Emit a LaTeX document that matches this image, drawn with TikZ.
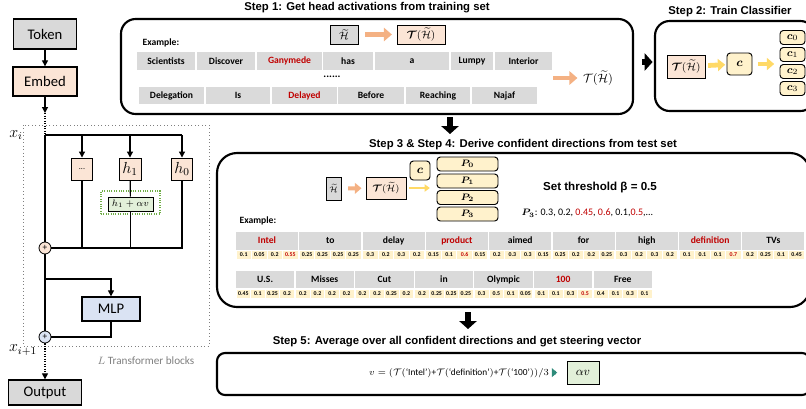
\documentclass[tikz,border=0pt]{standalone}
\usepackage{amsmath,bm}
\usepackage{fontspec}
\setmainfont{Carlito}
\newfontfamily\arialfont{Liberation Sans}
\usetikzlibrary{arrows.meta}

\definecolor{boxgray}{HTML}{D9D9D9}
\definecolor{cellgray}{HTML}{DADADA}
\definecolor{peach}{HTML}{FBE5D6}
\definecolor{lightblue}{HTML}{DAE3F3}
\definecolor{lightgreen}{HTML}{E2F0D9}
\definecolor{dotgreen}{HTML}{70AD47}
\definecolor{paleyellow}{HTML}{FFF2CC}
\definecolor{orangearr}{HTML}{F4B183}
\definecolor{goldarr}{HTML}{FFD966}
\definecolor{redtxt}{HTML}{C00000}
\definecolor{eqarr}{HTML}{2E8B7A}
\definecolor{blocktxt}{HTML}{7F7F7F}

\newcommand{\hl}[1]{\textcolor{redtxt}{#1}}
\newcommand{\tilH}{\widetilde{\mathcal{H}}}
\newcommand{\actT}{\boldsymbol{\mathcal{T}}(\tilH)}
\newcommand{\fsz}[1]{\fontsize{#1}{#1}\selectfont}

\begin{document}
\begin{tikzpicture}[x=0.75pt,y=0.75pt,yscale=-1,xscale=1,
  sz/.style 2 args={minimum width=#1*0.75pt,minimum height=#2*0.75pt},
  blk/.style={draw,line width=0.7pt,inner sep=0pt},
  stepbox/.style={draw,line width=1.6pt,rounded corners=11pt,inner sep=0pt},
  steptitle/.style={font=\arialfont\bfseries\fsz{8.5}},
  cell/.style={fill=cellgray,inner sep=0pt,font=\bfseries\fsz{7.2}},
  numcell/.style={fill=paleyellow,inner sep=0pt,font=\bfseries\fsz{4.4}},
  ybox/.style={blk,fill=paleyellow,rounded corners=2.5pt},
  stdarrow/.style={line width=0.9pt,-{Triangle[length=4.5pt,width=4.5pt]}},
  orangearrow/.style={draw=orangearr,line width=3.6pt,-{Triangle[length=6pt,width=10pt]}},
  goldarrow/.style={draw=goldarr,line width=3.6pt,-{Triangle[length=5.5pt,width=9pt]}},
  bigarrow/.style={line width=5pt,-{Triangle[length=6pt,width=13pt]}},
  addsum/.style={circle,draw,line width=0.6pt,inner sep=0pt,minimum size=12*0.75pt,font=\fsz{7}}
]
\useasboundingbox (0,0) rectangle (806,408);

%Token and Embed
\node[blk,line width=1pt,fill=boxgray,sz={63}{30},font=\fsz{11}] (token) at (45,34) {Token};
\node[blk,line width=1pt,fill=peach,sz={64}{29},font=\fsz{11}] (embed) at (45,81.5) {Embed};
\coordinate (embend) at (45,113);
\coordinate (xi) at (45,135);
\draw[stdarrow] (token) -- (embed);
\draw[stdarrow] (embed) -- (embend);
\draw[densely dotted,line width=0.9pt] (embend) -- (xi);

%Transformer block frame
\draw[blocktxt,dotted,line width=0.6pt] (23,125) rectangle (209,346);
% Text Node
\node[font=\fsz{12}] (xilab) at (16,135) {$x_i$};

%Heads
\node[blk,fill=peach,sz={21}{22},font=\fsz{6}] (hdots) at (82,169) {...};
\node[blk,fill=peach,sz={22}{22},font=\fsz{12}] (h1) at (130,169) {$h_1$};
\node[blk,fill=peach,sz={21}{22},font=\fsz{12}] (h0) at (182,169) {$h_0$};
\node[draw=dotgreen,densely dotted,line width=0.8pt,inner sep=0pt,sz={59}{23}] (steer) at (130.5,202.5) {};
\node[blk,fill=lightgreen,sz={45}{14},font=\fsz{7.5}] (hsteer) at (130.5,204) {$h_1+\alpha v$};
\node[addsum,fill=peach] (add1) at (45,248) {+};

\draw[line width=0.9pt] (xi) -- (h0 |- xi);
\draw[stdarrow] (hdots |- xi) -- (hdots);
\draw[stdarrow] (h1 |- xi) -- (h1);
\draw[stdarrow] (h0 |- xi) -- (h0);
\draw[line width=0.9pt] (h1) -- (hsteer);
\draw[line width=0.9pt] (hdots) -- (hdots |- add1);
\draw[line width=0.9pt] (hsteer) -- (hsteer |- add1);
\draw[line width=0.9pt] (h0) -- (h0 |- add1) -- (add1);
\draw[line width=0.9pt] (xi) -- (add1);

%MLP
\node[blk,line width=1pt,fill=lightblue,sz={58}{24},font=\fsz{11}] (mlp) at (111,309) {MLP};
\node[addsum,fill=lightblue] (add2) at (45,337) {+};
\coordinate (mlpfork) at (45,279);
\draw[line width=0.9pt] (add1) -- (add2);
\draw[stdarrow] (mlpfork) -| (mlp);
\draw[line width=0.9pt] (mlp) |- (add2);
% Text Node
\node[font=\fsz{12}] (xi1lab) at (23,350) {$x_{i+1}$};
\node[font=\fsz{8.4},text=blocktxt] (ltb) at (146,361) {$L$ Transformer blocks};

%Output
\node[blk,line width=1pt,fill=boxgray,sz={73}{25},font=\fsz{11}] (output) at (45,392.5) {Output};
\draw[densely dotted,line width=0.9pt,-{Triangle[length=4.5pt,width=4.5pt]}] (add2) -- (output);

%Step 1
\node[steptitle] (t1) at (367,8) {Step 1: Get head activations from training set};
\node[stepbox,sz={512}{95}] (s1) at (377,66.5) {};
\node[blk,fill=boxgray,sz={28}{19},font=\fsz{8}] (H1) at (344,34.5) {$\tilH$};
\node[blk,fill=peach,sz={48}{19},font=\fsz{8}] (TH1) at (421,34.5) {$\actT$};
\draw[orangearrow,shorten <=5pt,shorten >=3.5pt] (H1) -- (TH1);
% Text Node
\node[anchor=west,font=\bfseries\fsz{7.2}] (ex1) at (138,43) {Example:};
\foreach \xl/\xr/\txt [count=\i] in {137/195/Scientists,197/255/Discover,257/322/\hl{Ganymede},323/373/has,375/449/a,451/493/Lumpy,495/552/Interior}
  \node[cell,minimum width={(\xr-\xl)*0.75pt},minimum height=18*0.75pt] (ra\i) at ({(\xl+\xr)/2},61) {\txt};
\node[font=\bfseries\fsz{8}] (gap1) at (332,77) {......};
\foreach \xl/\xr/\txt [count=\i] in {139/204/Delegation,206/270/Is,272/337/\hl{Delayed},338/404/Before,406/470/Reaching,472/537/Najaf}
  \node[cell,minimum width={(\xr-\xl)*0.75pt},minimum height=17*0.75pt] (rb\i) at ({(\xl+\xr)/2},95.5) {\txt};
\coordinate (r1start) at (553,78);
\node[inner sep=0pt,font=\fsz{9.5}] (TH1out) at (598,78) {$\mathcal{T}(\tilH)$};
\draw[orangearrow,shorten >=4pt] (r1start) -- (TH1out);

%Step 2
\coordinate (a12) at (0,62);
\node[steptitle] (t2) at (730,12) {Step 2: Train Classifier};
\node[stepbox,sz={160}{90}] (s2) at (735,66) {};
\draw[bigarrow,shorten <=6pt,shorten >=1pt] (s1.east |- a12) -- (s2.west |- a12);
\node[blk,fill=peach,sz={38}{23},font=\fsz{8}] (TH2) at (686,66.5) {$\actT$};
\node[ybox,sz={25}{22},font=\fsz{9}] (c2) at (739.5,64) {$\bm{c}$};
\foreach \k/\yy in {0/37.5,1/54.5,2/71.5,3/88.5}
  \node[ybox,sz={25}{14},font=\fsz{8}] (cc\k) at (792.5,\yy) {$\bm{c}_{\k}$};
\draw[goldarrow,shorten <=2pt,shorten >=1pt] (TH2) -- (c2);
\draw[goldarrow,shorten <=4pt,shorten >=4pt] (c2) -- (cc1.west |- c2);

%Step 3 & 4
\coordinate (d1s) at (450,117);
\coordinate (d1e) at (450,134);
\draw[bigarrow] (d1s) -- (d1e);
\node[steptitle] (t3) at (523,145) {Step 3 \& Step 4: Derive confident directions from test set};
\node[stepbox,rounded corners=15pt,sz={593}{154}] (s3) at (513.5,230) {};
\node[blk,fill=boxgray,sz={15}{23},font=\fsz{6.5}] (H3) at (333.5,188.5) {$\tilH$};
\node[blk,fill=peach,sz={40}{22},font=\fsz{7.5}] (TH3) at (386,188) {$\actT$};
\node[ybox,sz={20}{19},font=\fsz{9}] (c3) at (420,170.5) {$\bm{c}$};
\foreach \k/\yy in {0/164,1/181,2/197.5,3/214}
  \node[ybox,sz={61}{14},font=\fsz{7.5}] (P\k) at (467.5,\yy) {$\bm{P_{\k}}$};
\draw[orangearrow,line width=3pt,-{Triangle[length=5pt,width=8pt]},shorten <=5pt,shorten >=3pt] (H3) -- (TH3);
\draw[draw=goldarr,line width=1.6pt,-{Triangle[length=4pt,width=5.5pt]},shorten <=2pt,shorten >=5pt] (TH3) -- (P1.west |- TH3);
% Text Node
\node[font=\arialfont\bfseries\fsz{8.7}] (thr) at (600,187) {Set threshold β = 0.5};
\node[anchor=west,font=\fsz{7.5}] (p3vals) at (517,213) {$\bm{P_3}$: 0.3, 0.2, \hl{0.45}, \hl{0.6}, 0.1,\hl{0.5},...};
\node[anchor=west,font=\bfseries\fsz{7.2}] (ex3) at (235,221) {Example:};

\foreach \txt/\va/\vb/\vc/\vd [count=\i] in {\hl{Intel}/0.1/0.05/0.2/\hl{0.55},to/0.25/0.25/0.25/0.25,delay/0.3/0.2/0.3/0.2,\hl{product}/0.15/0.1/\hl{0.6}/0.15,aimed/0.2/0.3/0.3/0.15,for/0.25/0.2/0.2/0.25,high/0.3/0.2/0.3/0.2,\hl{definition}/0.1/0.1/0.1/\hl{0.7},TVs/0.2/0.25/0.1/0.45}{
  \pgfmathsetmacro\xl{236+63.3*(\i-1)}
  \node[cell,sz={62}{18}] (wa\i) at (\xl+31,240.5) {\txt};
  \foreach \v [count=\j] in {\va,\vb,\vc,\vd}
    \node[numcell,sz={14.5}{8}] (na\i-\j) at ({\xl+15.5*(\j-0.5)},255) {\v};
}
\foreach \txt/\va/\vb/\vc/\vd [count=\i] in {U.S./0.45/0.1/0.25/0.2,Misses/0.2/0.2/0.2/0.2,Cut/0.2/0.2/0.25/0.2,in/0.2/0.25/0.25/0.25,Olympic/0.3/0.5/0.1/0.05,\hl{100}/0.1/0.1/0.3/\hl{0.5},Free/0.4/0.1/0.3/0.1}{
  \pgfmathsetmacro\xl{236+59.6*(\i-1)}
  \node[cell,sz={58.3}{17}] (wb\i) at (\xl+29.15,279.5) {\txt};
  \foreach \v [count=\j] in {\va,\vb,\vc,\vd}
    \node[numcell,sz={13.6}{8}] (nb\i-\j) at ({\xl+14.6*(\j-0.5)},294) {\v};
}

%Step 5
\coordinate (d2s) at (468,312);
\coordinate (d2e) at (468,329);
\draw[bigarrow] (d2s) -- (d2e);
\node[steptitle] (t5) at (457,342) {Step 5: Average over all confident directions and get steering vector};
\node[stepbox,rounded corners=6pt,sz={593}{42}] (s5) at (513.5,374) {};
\node[inner sep=0pt,font=\fsz{7}] (eq) at (459,373) {$v=(\mathcal{T}(\text{‘Intel’})$+$\mathcal{T}(\text{‘definition’})$+$\mathcal{T}(\text{‘100’}))/3$};
\node[blk,fill=lightgreen,sz={32}{23},font=\fsz{9}] (av) at (583,372.5) {$\alpha v$};
\draw[draw=eqarr,line width=2.6pt,-{Triangle[length=4pt,width=6.5pt]},shorten <=5pt,shorten >=7pt] (eq) -- (av);

\end{tikzpicture}
\end{document}
